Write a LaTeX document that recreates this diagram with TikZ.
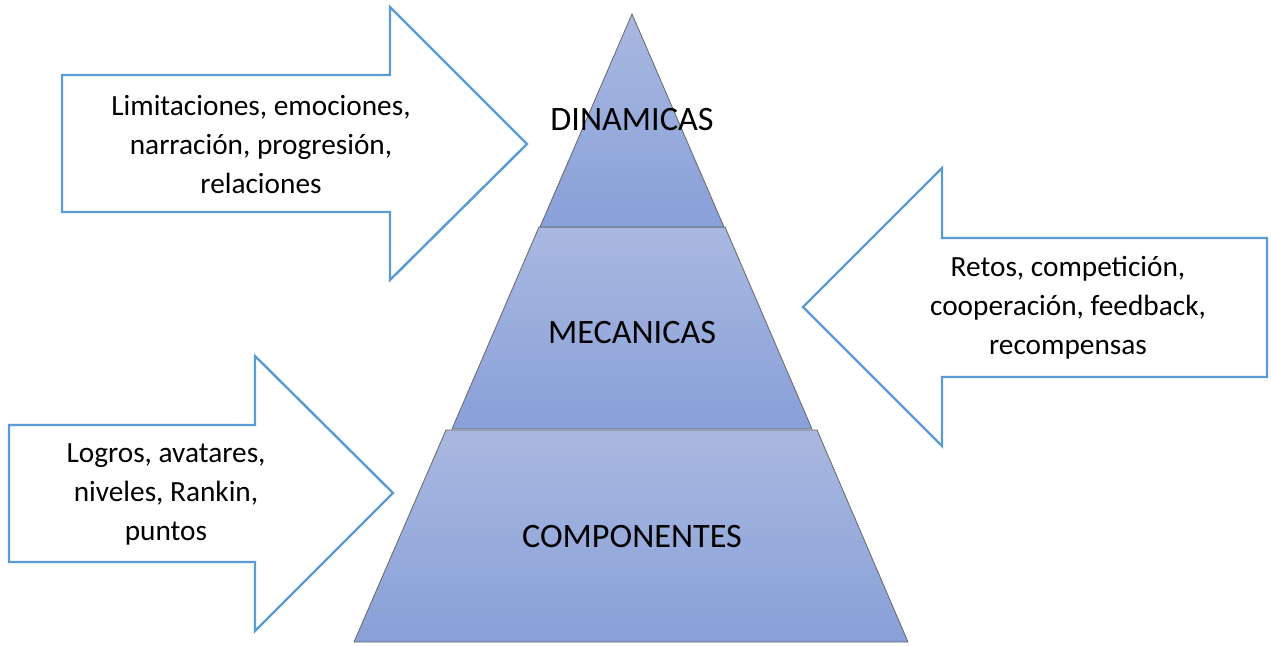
\documentclass[tikz,border=0pt]{standalone}
\usepackage{fontspec}
\setmainfont{Carlito}
\begin{document}
\begin{tikzpicture}[x=1pt,y=-1pt,
  layer/.style={draw=black!60, line width=0.8pt, top color=laytop, bottom color=laybot},
  bigarrow/.style={draw=arrowblue, line width=2.4pt, fill=white, line join=miter},
  arrowtext/.style={align=center, font=\fontsize{29.3}{39}\selectfont, inner sep=0pt},
  laytext/.style={font=\fontsize{34.2}{40}\selectfont, inner sep=0pt}]
\definecolor{laytop}{HTML}{A9B8E0}
\definecolor{laybot}{HTML}{88A0D8}
\definecolor{arrowblue}{HTML}{5B9BD5}
\useasboundingbox (0,0) rectangle (1271,645);
% pyramid layers
\path[layer] (446,430) -- (817,430) -- (908,642) -- (354,642) -- cycle;
\path[layer] (539,227) -- (725,227) -- (812,429) -- (452,429) -- cycle;
\path[layer] (632,14) -- (724,227) -- (540,227) -- cycle;
% arrows
\path[bigarrow] (62,75) -- (390,75) -- (390,7) -- (527,144) -- (390,280) -- (390,212) -- (62,212) -- cycle;
\path[bigarrow] (1267,238) -- (942,238) -- (942,168) -- (803,307) -- (942,446) -- (942,377) -- (1267,377) -- cycle;
\path[bigarrow] (9,425) -- (255,425) -- (255,356) -- (393,493) -- (255,631) -- (255,562) -- (9,562) -- cycle;
% labels
\node[laytext] (din) at (632,120) {DINAMICAS};
\node[laytext] (mec) at (632,333) {MECANICAS};
\node[laytext] (com) at (632,537) {COMPONENTES};
\node[arrowtext] (t1) at (261,145) {Limitaciones, emociones,\\narración, progresión,\\relaciones};
\node[arrowtext] (t2) at (1068,308) {Retos, competición,\\cooperación, feedback,\\recompensas};
\node[arrowtext] (t3) at (166,494) {Logros, avatares,\\niveles, Rankin,\\puntos};
\end{tikzpicture}
\end{document}
